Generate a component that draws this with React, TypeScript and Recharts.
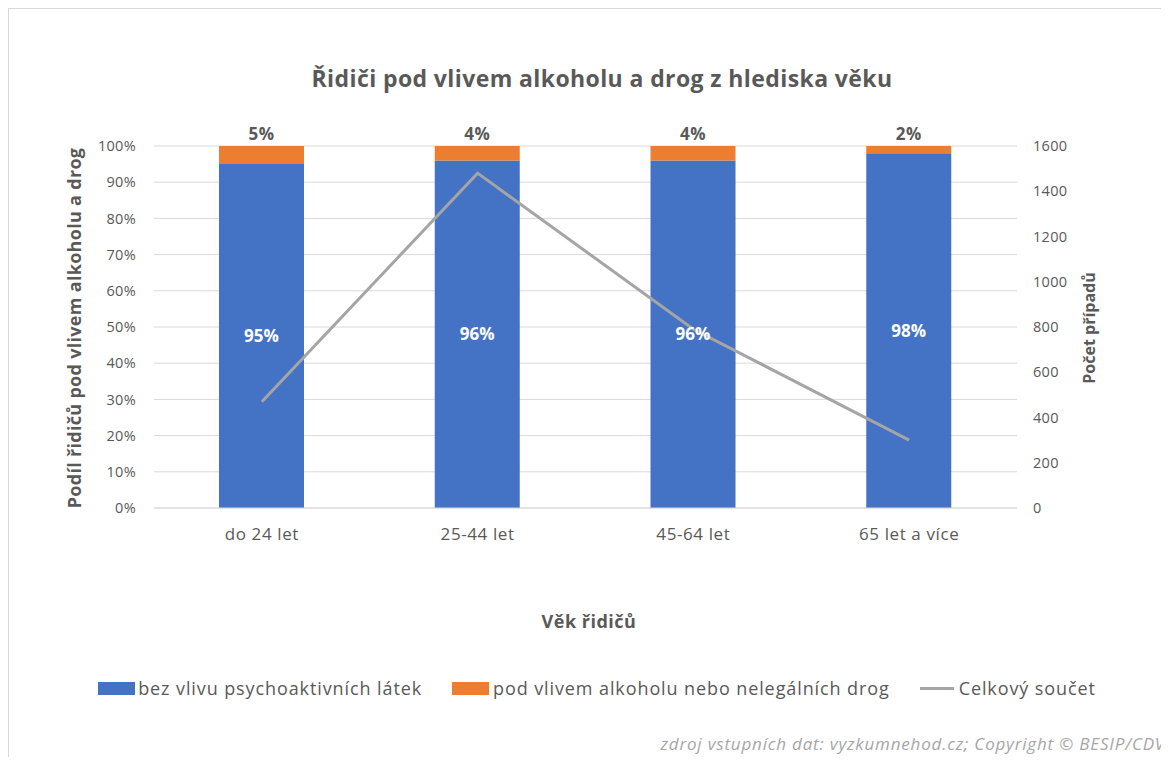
import { ComposedChart, Bar, Line, XAxis, YAxis, CartesianGrid, LabelList } from "recharts";

const categories = ["do 24 let", "25-44 let", "45-64 let", "65 let a více"];
const soberShare = [0.95, 0.96, 0.96, 0.98];
const impairedShare = [0.05, 0.04, 0.04, 0.02];
const totalCases = [470, 1480, 790, 300];

const shareTicks = [0, 0.1, 0.2, 0.3, 0.4, 0.5, 0.6, 0.7, 0.8, 0.9, 1];
const countTicks = [0, 200, 400, 600, 800, 1000, 1200, 1400, 1600];

const seriesNames = [
    "bez vlivu psychoaktivních látek",
    "pod vlivem alkoholu nebo nelegálních drog",
    "Celkový součet",
];

const BLUE = "#4472C4";
const ORANGE = "#ED7D31";
const GREY = "#A5A5A5";
const TEXT = "#595959";
const FONT = "'Open Sans', Lato, sans-serif";

const data = categories.map((name, i) => ({
    name,
    sober: soberShare[i],
    impaired: impairedShare[i],
    total: totalCases[i],
}));

const pct = (v: number) => `${Math.round(v * 100)}%`;

const LegendRow = () => (
    <div
        style={{
            position: "absolute",
            top: 667,
            left: -12,
            width: 1200,
            display: "flex",
            justifyContent: "center",
            alignItems: "center",
            fontFamily: FONT,
            fontSize: 18,
            letterSpacing: 0.9,
            color: TEXT,
        }}
    >
        <span style={{ display: "inline-block", width: 37, height: 13, background: BLUE, marginRight: 3 }} />
        <span style={{ marginRight: 30 }}>{seriesNames[0]}</span>
        <span style={{ display: "inline-block", width: 37, height: 13, background: ORANGE, marginRight: 4 }} />
        <span style={{ marginRight: 30 }}>{seriesNames[1]}</span>
        <span style={{ display: "inline-block", width: 34, height: 3, background: GREY, marginRight: 5 }} />
        <span>{seriesNames[2]}</span>
    </div>
);

const App = () => {
    return (
        <div
            style={{
                position: "relative",
                width: 1153,
                height: 749,
                borderTop: "1px solid #d9d9d9",
                borderLeft: "1px solid #d9d9d9",
                boxSizing: "border-box",
                background: "#fff",
                fontFamily: FONT,
            }}
        >
            <div
                style={{
                    position: "absolute",
                    top: 53,
                    left: 0,
                    width: 1186,
                    textAlign: "center",
                    fontSize: 23,
                    letterSpacing: 0.4,
                    fontWeight: 700,
                    color: TEXT,
                }}
            >
                Řidiči pod vlivem alkoholu a drog z hlediska věku
            </div>

            <ComposedChart
                width={1152}
                height={748}
                data={data}
                margin={{ top: 137, right: 44, bottom: 209, left: 45 }}
            >
                <CartesianGrid vertical={false} stroke="#d9d9d9" yAxisId="left" />
                <XAxis
                    dataKey="name"
                    height={40}
                    axisLine={{ stroke: "#d9d9d9" }}
                    tickLine={false}
                    tick={{ fill: TEXT, fontSize: 17, fontFamily: FONT, letterSpacing: 0.6 }}
                    tickMargin={14}
                />
                <YAxis
                    yAxisId="left"
                    orientation="left"
                    width={100}
                    domain={[0, 1]}
                    ticks={shareTicks}
                    tickFormatter={pct}
                    axisLine={false}
                    tickLine={false}
                    tickMargin={12}
                    tick={{ fill: TEXT, fontSize: 14.5, fontFamily: FONT, letterSpacing: 0.3 }}
                />
                <YAxis
                    yAxisId="right"
                    orientation="right"
                    width={100}
                    domain={[0, 1600]}
                    ticks={countTicks}
                    axisLine={false}
                    tickLine={false}
                    tickMargin={10}
                    tick={{ fill: TEXT, fontSize: 14.5, fontFamily: FONT, letterSpacing: 0.3, textAnchor: "start" }}
                />
                <Bar yAxisId="left" dataKey="sober" stackId="a" fill={BLUE} barSize={85} isAnimationActive={false}>
                    <LabelList
                        dataKey="sober"
                        position="center"
                        formatter={(v: any) => pct(Number(v))}
                        fill="#ffffff"
                        fontSize={17}
                        fontWeight={700}
                        fontFamily={FONT}
                    />
                </Bar>
                <Bar yAxisId="left" dataKey="impaired" stackId="a" fill={ORANGE} barSize={85} isAnimationActive={false}>
                    <LabelList
                        dataKey="impaired"
                        position="top"
                        offset={6}
                        formatter={(v: any) => pct(Number(v))}
                        fill={TEXT}
                        fontSize={17}
                        fontWeight={700}
                        fontFamily={FONT}
                        letterSpacing={0.5}
                    />
                </Bar>
                <Line
                    yAxisId="right"
                    type="linear"
                    dataKey="total"
                    stroke={GREY}
                    strokeWidth={3}
                    dot={false}
                    activeDot={false}
                    isAnimationActive={false}
                />
            </ComposedChart>

            <div style={{ position: "absolute", left: 65, top: 319, width: 0, height: 0 }}>
                <div
                    style={{
                        position: "absolute",
                        transform: "translate(-50%, -50%) rotate(-90deg)",
                        whiteSpace: "nowrap",
                        fontSize: 18,
                        letterSpacing: 0.3,
                        fontWeight: 700,
                        color: TEXT,
                    }}
                >
                    Podíl řidičů pod vlivem alkoholu a drog
                </div>
            </div>

            <div style={{ position: "absolute", left: 1080, top: 319, width: 0, height: 0 }}>
                <div
                    style={{
                        position: "absolute",
                        transform: "translate(-50%, -50%) rotate(-90deg)",
                        whiteSpace: "nowrap",
                        fontSize: 16,
                        fontWeight: 700,
                        color: TEXT,
                    }}
                >
                    Počet případů
                </div>
            </div>

            <div
                style={{
                    position: "absolute",
                    top: 600,
                    left: 0,
                    width: 1160,
                    textAlign: "center",
                    fontSize: 18,
                    letterSpacing: 0.5,
                    fontWeight: 700,
                    color: TEXT,
                }}
            >
                Věk řidičů
            </div>

            <LegendRow />

            <div
                style={{
                    position: "absolute",
                    top: 723,
                    right: -4,
                    fontSize: 17,
                    letterSpacing: 0.8,
                    fontStyle: "italic",
                    color: "#a6a6a6",
                }}
            >
                zdroj vstupních dat: vyzkumnehod.cz; Copyright © BESIP/CDV
            </div>
        </div>
    );
};

export default App;
